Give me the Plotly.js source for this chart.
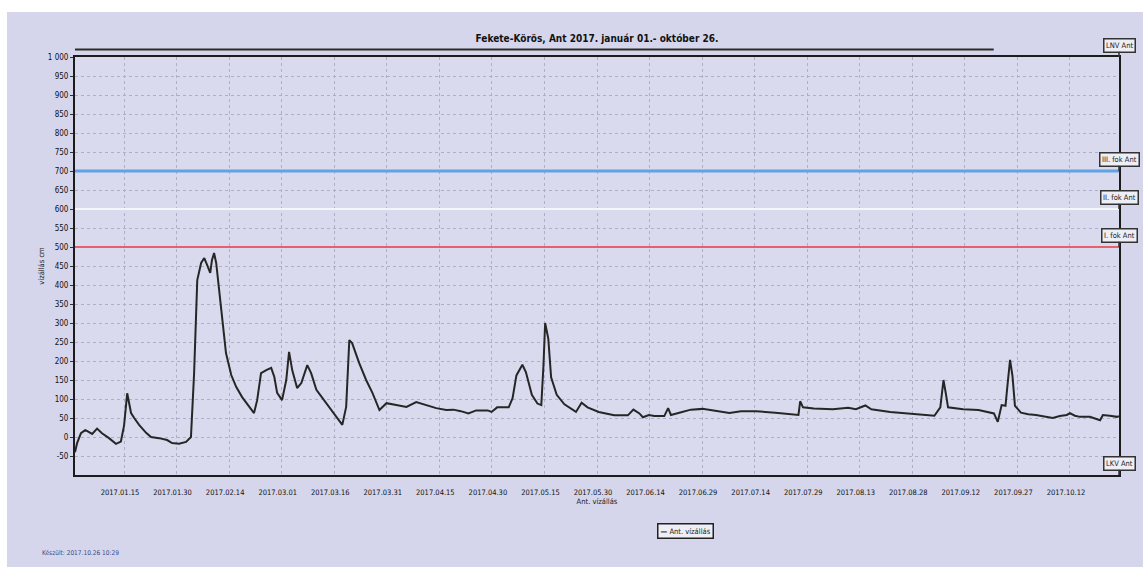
<!DOCTYPE html>
<html>
<head>
<meta charset="utf-8">
<script src="https://cdn.plot.ly/plotly-3.0.1.min.js"></script>
<style>
  html, body { margin: 0; padding: 0; background: #ffffff; width: 1143px; height: 567px; overflow: hidden; }
  #chart { position: absolute; left: 7px; top: 12px; width: 1136px; height: 555px; }
</style>
</head>
<body>
<div id="chart"></div>
<script>
// ---- data ----
// days elapsed since 2017-01-01 00:00
const dayOffsets = [
  0, 0.6, 1.7, 2.9, 3.4, 4.9, 6.3, 7.7, 9.7, 11.7, 13.1, 14, 14.9, 16, 16.9, 18.3, 20.3, 21.7, 24, 26.3,
  27.7, 29.7, 31.7, 33.1, 34, 34.9, 36, 36.9, 37.7, 38.6, 39.1, 39.7, 40.3, 41.1, 42, 43.1, 44.6, 46, 47.7, 49.7,
  51.1, 52, 53.1, 54.6, 56, 56.9, 57.7, 59.1, 60.3, 61.1, 62, 63.4, 64.6, 66.3, 67.4, 68.9, 71.7, 74.6, 76.3, 77.4,
  78.3, 79.1, 81.1, 83.1, 84.9, 86.9, 88.9, 91.7, 94.6, 97.4, 100.3, 103.1, 106, 108, 110.1, 112.3, 114.5, 117.8, 118.9, 120.5,
  123.8, 124.9, 126, 127.1, 127.7, 128.7, 130.4, 132, 133.1, 133.7, 134.2, 135.1, 135.9, 137.5, 139.7, 143, 144.6, 146.3, 149.5, 153.9,
  157.8, 159.4, 161.1, 162.1, 163.8, 165.4, 168.2, 169.3, 170.1, 172.5, 175.8, 179.1, 183.5, 186.8, 190.1, 194.4, 199.9, 203.2, 206.5, 207,
  207.8, 210.9, 216.3, 220.7, 222.9, 225.6, 227.3, 232.7, 238.2, 241.5, 245.3, 247, 247.9, 248.6, 249.2, 253.5, 257.9, 262.3, 263.4, 264.5,
  265.6, 266.1, 266.9, 267.6, 268.3, 270, 272.1, 274.3, 276.5, 279.1, 281.1, 283.1, 284, 285.4, 286.9, 289.7, 292.6, 293.4, 295.4, 297.4, 298
];
// water level at Ant, cm
const waterLevel = [
  -40, -16, 10, 18, 16, 8, 22, 10, -3, -18, -12, 30, 115, 63, 50, 32, 11, 0, -3, -8,
  -16, -18, -13, 0, 168, 413, 458, 471, 453, 432, 466, 484, 458, 387, 300, 221, 163, 132, 105, 79,
  63, 97, 168, 176, 182, 158, 116, 97, 150, 224, 176, 129, 142, 189, 168, 124, 89, 53, 32, 79,
  255, 247, 195, 150, 116, 71, 89, 84, 79, 92, 84, 76, 71, 72, 68, 62, 70, 70, 66, 78,
  78, 102, 162, 180, 190, 171, 111, 88, 84, 185, 300, 259, 157, 111, 86, 66, 90, 78, 66, 57,
  57, 72, 62, 52, 58, 55, 55, 76, 58, 64, 72, 74, 68, 63, 68, 68, 64, 61, 58, 94,
  78, 75, 73, 77, 73, 83, 73, 66, 62, 59, 56, 78, 150, 113, 78, 73, 71, 62, 40, 84,
  82, 130, 203, 160, 82, 64, 60, 58, 55, 50, 55, 58, 63, 56, 53, 53, 44, 58, 56, 53, 55
];
const seriesName = "Ant. vízállás";
// alert levels (cm): I., II., III. fok
const alertNames  = ["I. fok Ant", "II. fok Ant", "III. fok Ant"];
const alertLevels = [500, 600, 700];
const alertColors = ["#e8606c", "#f6f6fa", "#62a2e4"];
// extreme levels shown as boxes on the frame
const extremeNames  = ["LNV Ant", "LKV Ant"];
const extremeLevels = [1000, -100];

const yTickVals = [];
for (let v = -50; v <= 1000; v += 50) yTickVals.push(v);
const yTickText = yTickVals.map(v => v >= 1000 ? String(v).replace(/(\d)(?=(\d{3})+$)/g, "$1 ") : String(v));

const START = Date.UTC(2017, 0, 1);
const xDates = dayOffsets.map(d => new Date(START + d * 86400000).toISOString().slice(0, 19).replace("T", " "));

const FONT = "'Liberation Sans Narrow', 'DejaVu Sans Condensed', 'Arial Narrow', 'Liberation Sans', sans-serif";

const traces = [{
  type: "scatter", mode: "lines", x: xDates, y: waterLevel, name: seriesName,
  line: { color: "#262626", width: 2 }, showlegend: false
}];

const shapes = alertLevels.map((v, i) => ({
  type: "line", xref: "paper", x0: 0, x1: 1, yref: "y", y0: v, y1: v,
  line: { color: alertColors[i], width: i === 2 ? 3 : 2.2 }, layer: "above"
}));
// outer top rule of the frame
shapes.push({ type: "line", xref: "paper", x0: 0, x1: 0.88, yref: "paper", y0: 1.018, y1: 1.018,
  line: { color: "#2b2b2b", width: 2 } });

const boxStyle = {
  showarrow: true, arrowhead: 0, arrowwidth: 1.5, arrowcolor: "#333", ax: 0, ay: -12,
  font: { family: FONT, size: 7.5, color: "#222" }, bgcolor: "#eeeef6",
  bordercolor: "#333", borderwidth: 1.5, borderpad: 1.5
};
const annotations = [];
alertLevels.forEach((v, i) => annotations.push(Object.assign({
  xref: "paper", x: 1, yref: "y", y: v, text: alertNames[i] }, boxStyle)));
extremeLevels.forEach((v, i) => annotations.push(Object.assign({
  xref: "paper", x: 1, yref: "y", y: v, text: extremeNames[i] }, boxStyle)));
// legend box (drawn as a boxed label, like the original)
annotations.push({
  xref: "paper", x: 0.585, xanchor: "center", yref: "paper", y: -0.134, yanchor: "middle",
  text: "<b>—</b> " + seriesName, showarrow: false,
  font: { family: FONT, size: 7.5, color: "#222" },
  bgcolor: "#eeeef6", bordercolor: "#222", borderwidth: 1.5, borderpad: 2
});
annotations.push({
  xref: "paper", x: -0.034, xanchor: "left", yref: "paper", y: -0.187, yanchor: "middle",
  text: "Készült: 2017.10.26 10:29", showarrow: false,
  font: { family: FONT, size: 6.5, color: "#3a4a8a" }
});

const layout = {
  width: 1136, height: 555,
  margin: { l: 68, r: 24, t: 45, b: 92 },
  paper_bgcolor: "#d5d6eb",
  plot_bgcolor: "#d9daee",
  separators: ", ",
  title: {
    text: "<b>Fekete-Körös, Ant 2017. január 01.- október 26.</b>",
    font: { family: FONT, size: 10, color: "#111" },
    xref: "paper", x: 0.5, xanchor: "center",
    yref: "container", y: 0.953, yanchor: "middle"
  },
  xaxis: {
    type: "date",
    range: ["2017-01-01", "2017-10-26"],
    tick0: "2017-01-15", dtick: 15 * 86400000,
    tickformat: "%Y.%m.%d",
    ticks: "", ticklabelstandoff: 9, ticklabelshift: -4,
    tickfont: { family: FONT, size: 7.5, color: "#111" },
    showgrid: true, gridcolor: "#aeaec8", griddash: "dot", gridwidth: 1,
    showline: true, linecolor: "#1c1c1c", linewidth: 2, mirror: true,
    zeroline: false,
    title: { text: "Ant. vízállás", font: { family: FONT, size: 7.5, color: "#222" }, standoff: 2 }
  },
  yaxis: {
    range: [-100, 1000],
    tickmode: "array", tickvals: yTickVals, ticktext: yTickText,
    ticks: "outside", ticklen: 3, tickcolor: "#333",
    tickfont: { family: FONT, size: 8, color: "#111" },
    showgrid: true, gridcolor: "#aeaec8", griddash: "dot", gridwidth: 1,
    showline: true, linecolor: "#1c1c1c", linewidth: 2, mirror: true,
    zeroline: false,
    title: { text: "vízállás cm", font: { family: FONT, size: 7.5, color: "#222" }, standoff: 2 }
  },
  showlegend: false,
  shapes: shapes,
  annotations: annotations
};

Plotly.newPlot("chart", traces, layout, { displayModeBar: false, staticPlot: true });
</script>
</body>
</html>
